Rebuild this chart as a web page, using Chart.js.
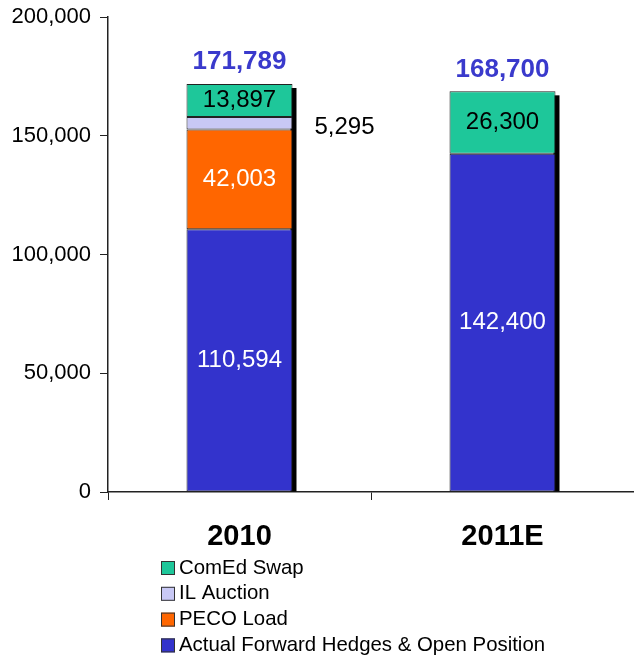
<!DOCTYPE html>
<html>
<head>
<meta charset="utf-8">
<script src="https://cdn.jsdelivr.net/npm/chart.js@4/dist/chart.umd.min.js"></script>
<style>
  html, body { margin: 0; padding: 0; background: #fff; }
  #wrap { width: 634px; height: 659px; }
</style>
</head>
<body>
<div id="wrap"><canvas id="chart" width="634" height="659"></canvas></div>
<script>
// data
const categories = ['2010', '2011E'];
const hedges = [110594, 142400];
const pecoLoad = [42003, 0];
const ilAuction = [5295, 0];
const comedSwap = [13897, 26300];
const totals = [171789, 168700];
const yTicks = [0, 50000, 100000, 150000, 200000];

const FONT = "'Liberation Sans', Arial, sans-serif";
const fmt = v => v.toLocaleString('en-US');

// black drop shadow on the right side of each stacked bar
const shadowPlugin = {
    id: 'barShadow',
    beforeDatasetsDraw(chart) {
        const ctx = chart.ctx;
        const area = chart.chartArea;
        categories.forEach((c, i) => {
            let top = Infinity, bottom = -Infinity, right = 0;
            chart.data.datasets.forEach((ds, d) => {
                if (!ds.data[i]) return;
                const el = chart.getDatasetMeta(d).data[i];
                top = Math.min(top, el.y);
                bottom = Math.max(bottom, el.base);
                right = el.x + el.width / 2;
            });
            ctx.save();
            ctx.fillStyle = '#000';
            ctx.fillRect(right - 2, top + 4, 6, Math.min(bottom, area.bottom) - top - 4);
            ctx.restore();
        });
    }
};

// value labels, totals and legend
const labelPlugin = {
    id: 'labels',
    afterDraw(chart) {
        const ctx = chart.ctx;
        ctx.save();
        ctx.textAlign = 'center';
        ctx.textBaseline = 'middle';
        chart.data.datasets.forEach((ds, d) => {
            const meta = chart.getDatasetMeta(d);
            ds.data.forEach((v, i) => {
                if (!v) return;
                const el = meta.data[i];
                ctx.font = '24px ' + FONT;
                if (ds.outside) {
                    ctx.fillStyle = '#000';
                    ctx.fillText(fmt(v), el.x + 105, el.y + 10);
                } else {
                    ctx.fillStyle = ds.textColor;
                    ctx.fillText(fmt(v), el.x, (el.y + el.base) / 2);
                }
            });
        });
        // totals
        const topMeta = chart.getDatasetMeta(chart.data.datasets.length - 1);
        totals.forEach((t, i) => {
            const el = topMeta.data[i];
            ctx.font = 'bold 26px ' + FONT;
            ctx.fillStyle = '#3a3acc';
            ctx.fillText(fmt(t), el.x, el.y - 22);
        });
        // legend
        const items = chart.data.datasets.slice().reverse();
        ctx.textAlign = 'left';
        items.forEach((ds, k) => {
            const y = 568 + k * 25.8;
            ctx.fillStyle = ds.backgroundColor;
            ctx.fillRect(161, y - 7, 14, 14);
            ctx.strokeStyle = '#333';
            ctx.lineWidth = 1;
            ctx.strokeRect(161.5, y - 6.5, 13, 13);
            ctx.fillStyle = '#000';
            ctx.font = '20.4px ' + FONT;
            ctx.fillText(ds.label, 179, y);
        });
        ctx.restore();
    }
};

new Chart(document.getElementById('chart'), {
    type: 'bar',
    data: {
        labels: categories,
        datasets: [
            { label: 'Actual Forward Hedges & Open Position', data: hedges, backgroundColor: '#3333cc', textColor: '#fff' },
            { label: 'PECO Load', data: pecoLoad, backgroundColor: '#ff6600', textColor: '#fff' },
            { label: 'IL Auction', data: ilAuction, backgroundColor: '#c8c8f5', textColor: '#000', outside: true },
            { label: 'ComEd Swap', data: comedSwap, backgroundColor: '#1ec79a', textColor: '#000' }
        ].map(ds => Object.assign(ds, {
            borderColor: '#222',
            borderWidth: 1,
            borderSkipped: false,
            barPercentage: 0.403,
            categoryPercentage: 1
        }))
    },
    options: {
        responsive: false,
        animation: false,
        layout: { padding: { top: 17, right: 0, left: 0, bottom: 0 } },
        plugins: {
            legend: { display: false },
            tooltip: { enabled: false }
        },
        scales: {
            x: {
                stacked: true,
                afterFit: s => { s.height = 167; s.paddingLeft = 0; s.paddingRight = 0; },
                grid: { drawOnChartArea: false, drawTicks: true, tickLength: 8, color: '#222' },
                border: { display: true, color: '#222', width: 1.5 },
                ticks: { color: '#000', font: { family: FONT, size: 29, weight: 'bold' }, padding: 20 }
            },
            y: {
                stacked: true,
                min: 0,
                max: 200000,
                afterFit: s => { s.width = 108; s.paddingTop = 0; s.paddingBottom = 0; },
                afterBuildTicks: s => { s.ticks = yTicks.map(v => ({ value: v })); },
                grid: { drawOnChartArea: false, drawTicks: true, tickLength: 8, color: '#222' },
                border: { display: true, color: '#222', width: 1.5 },
                ticks: { color: '#000', font: { family: FONT, size: 22 }, padding: 9, callback: v => fmt(v) }
            }
        }
    },
    plugins: [shadowPlugin, labelPlugin]
});
</script>
</body>
</html>
